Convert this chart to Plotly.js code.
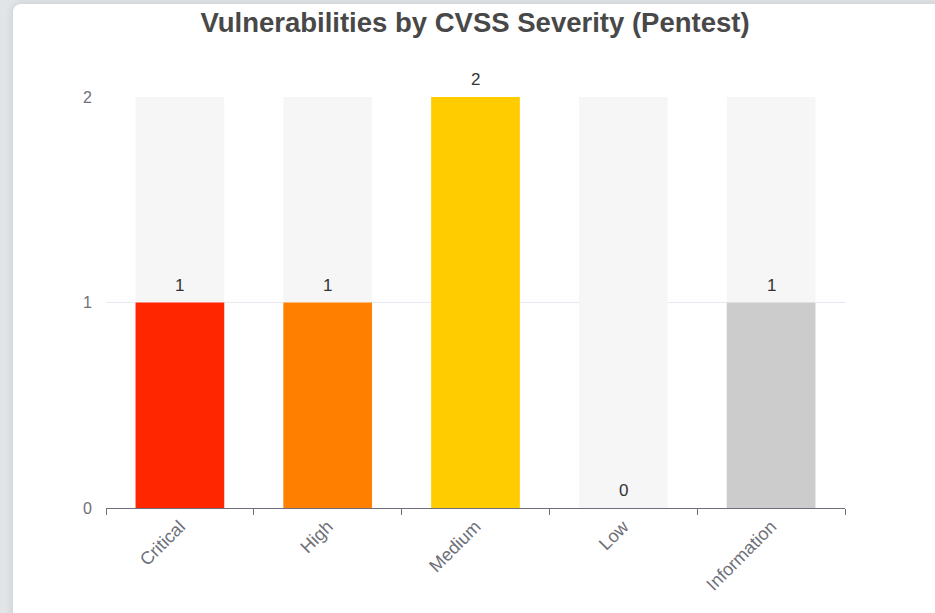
<!DOCTYPE html>
<html>
<head>
<meta charset="utf-8">
<script src="https://cdn.plot.ly/plotly-3.0.1.min.js"></script>
<style>
  html, body { margin:0; padding:0; width:935px; height:613px; overflow:hidden; background:#e1e5e8; }
  #card { position:absolute; left:13px; top:4px; width:932px; height:620px; background:#ffffff; border-radius:8px; box-shadow:0 0 8px rgba(0,0,0,0.12); }
  #chart { position:absolute; left:0; top:0; width:935px; height:613px; }
</style>
</head>
<body>
<div id="card"></div>
<div id="chart"></div>
<script>
const categories = ["Critical", "High", "Medium", "Low", "Information"];
const counts = [1, 1, 2, 0, 1];
const barColors = ["#ff2600", "#ff7f00", "#ffcc00", "#66cc33", "#cccccc"];
const yTicks = [0, 1, 2];
const yMax = 2;
const backgroundValues = categories.map(() => yMax);

const font = "Liberation Sans, Arial, Helvetica, sans-serif";

const bgTrace = {
  type: "bar", x: categories, y: backgroundValues,
  marker: { color: "#f6f6f6" }, width: 0.6,
  hoverinfo: "skip", showlegend: false
};
const mainTrace = {
  type: "bar", x: categories, y: counts,
  marker: { color: barColors }, width: 0.6,
  showlegend: false
};

const annotations = categories.map((c, i) => ({
  x: c, y: counts[i], xref: "x", yref: "y",
  text: String(counts[i]), showarrow: false,
  yanchor: "bottom", yshift: 6,
  font: { family: font, size: 17, color: "#333333" }
}));

const layout = {
  width: 935, height: 613,
  paper_bgcolor: "rgba(0,0,0,0)", plot_bgcolor: "rgba(0,0,0,0)",
  margin: { l: 106, r: 90, t: 97, b: 105, pad: 0 },
  barmode: "overlay",
  title: {
    text: "<b>Vulnerabilities by CVSS Severity (Pentest)</b>",
    x: 0.508, xanchor: "center", y: 0.963, yanchor: "middle",
    font: { family: font, size: 27.5, color: "#484848" }
  },
  xaxis: {
    type: "category", tickangle: -45, tickson: "boundaries",
    showline: true, linecolor: "#6e7079", linewidth: 1,
    ticks: "outside", ticklen: 6, tickcolor: "#6e7079",
    showgrid: false, zeroline: false,
    tickfont: { family: font, size: 18, color: "#6e7079" }
  },
  yaxis: {
    range: [0, yMax], tickvals: yTicks, ticktext: yTicks.map(String),
    showline: false, zeroline: false,
    gridcolor: "#e6e9f2", gridwidth: 1,
    ticks: "outside", ticklen: 10, tickcolor: "rgba(0,0,0,0)",
    tickfont: { family: font, size: 16, color: "#6e7079" }
  },
  annotations: annotations,
  bargap: 0.4
};

Plotly.newPlot("chart", [bgTrace, mainTrace], layout, { displayModeBar: false, staticPlot: true });
</script>
</body>
</html>
